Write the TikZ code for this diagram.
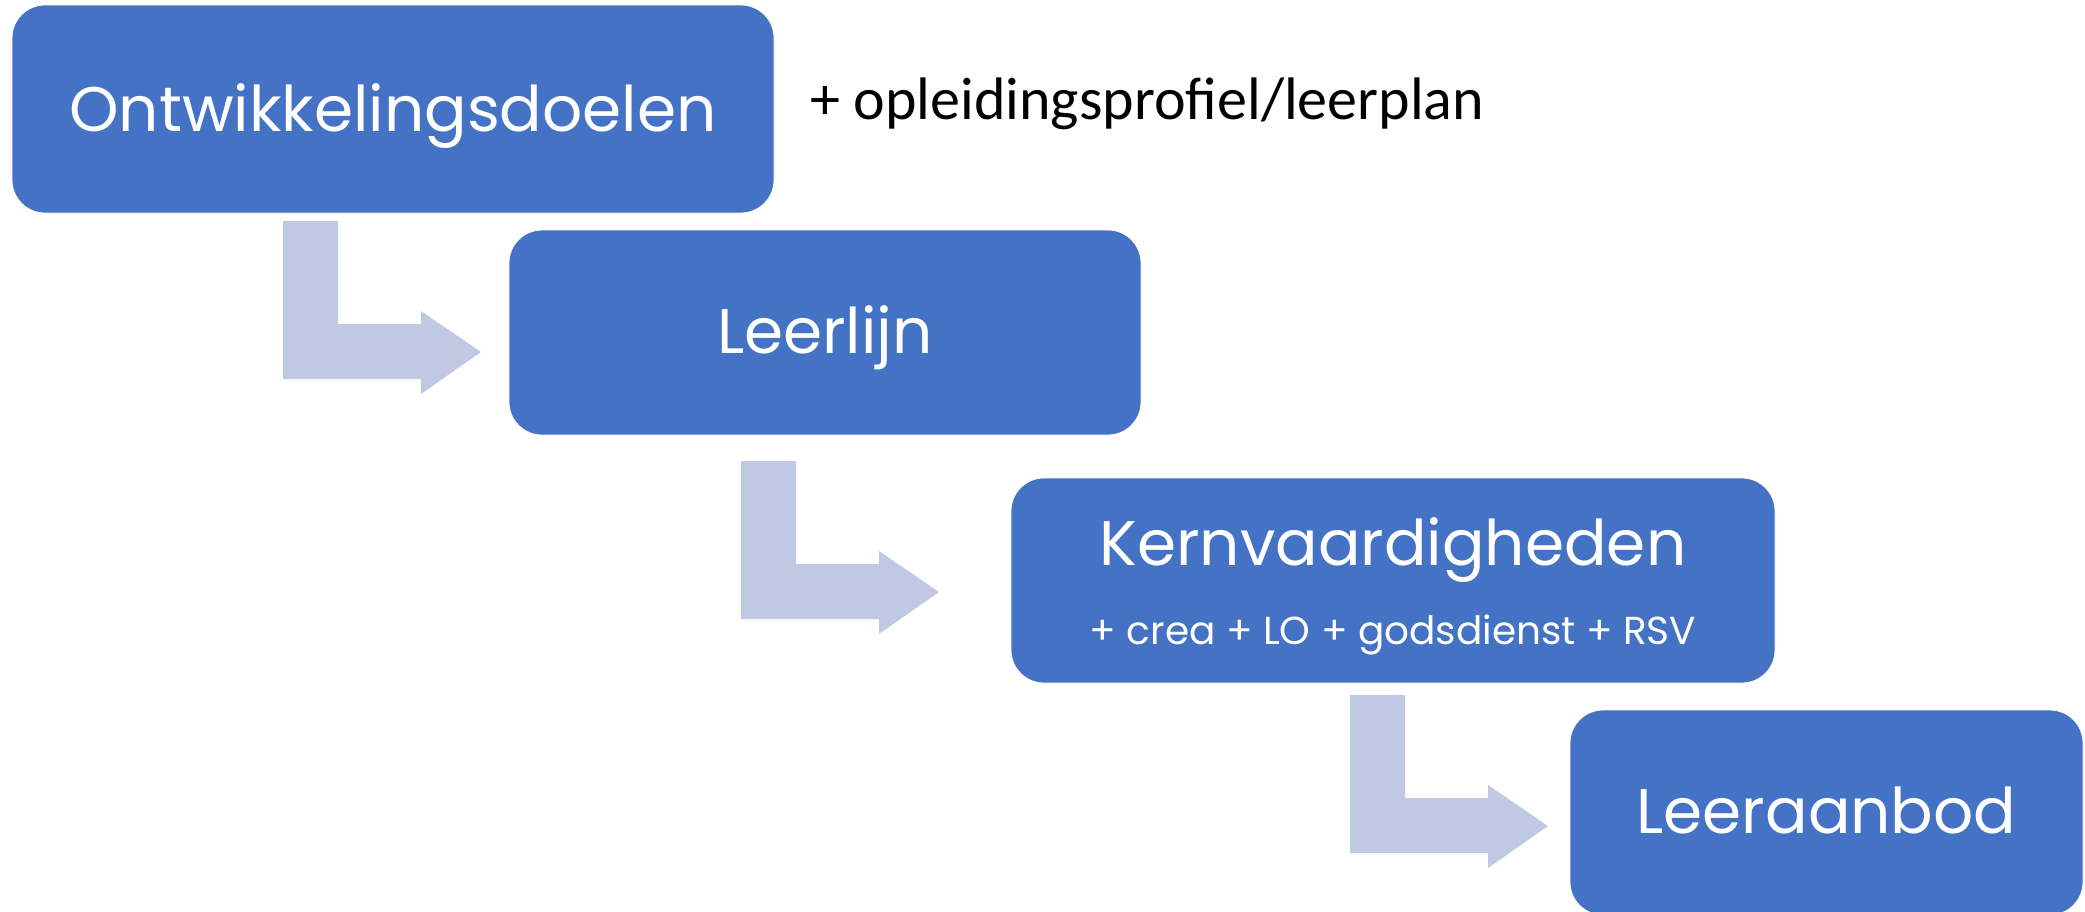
\documentclass[tikz,border=0pt]{standalone}
\usepackage{fontspec}
\newfontfamily\gothicfont{Poppins}
\newfontfamily\calfont{Carlito}
\definecolor{boxblue}{RGB}{68,114,196}
\definecolor{arrowblue}{RGB}{191,201,228}
\begin{document}
\begin{tikzpicture}[x=1pt,y=-1pt,
  stagebox/.style={draw=white,line width=0.8pt,fill=boxblue,rounded corners=33pt,inner sep=0pt,minimum height=205pt},
  maintext/.style={text=white,anchor=base,inner sep=0pt,font=\gothicfont\fontsize{63}{70}\selectfont},
  subtext/.style={text=white,anchor=base,inner sep=0pt,font=\gothicfont\fontsize{39}{44}\selectfont},
  notetext/.style={text=black,anchor=base west,inner sep=0pt,font=\calfont\fontsize{60}{66}\selectfont},
  bentarrow/.pic={\fill[arrowblue] (0,0) -- (55,0) -- (55,103) -- (138,103) -- (138,90) -- (198,131) -- (138,173) -- (138,158) -- (0,158) -- cycle;}
]
\useasboundingbox (0,0) rectangle (2085,911);
\begin{scope}
\clip (0,0) rectangle (2085,911);
\node[stagebox,minimum width=762pt,minimum height=208pt] (b1) at (393,109) {};
\node[stagebox,minimum width=632pt] (b2) at (825,332.5) {};
\node[stagebox,minimum width=764pt] (b3) at (1393,580.5) {};
\node[stagebox,minimum width=513pt] (b4) at (1826.5,812.5) {};
\end{scope}
\node[maintext] (t1) at (393,131) {Ontwikkelingsdoelen};
\node[maintext] (t2) at (825,353) {Leerlijn};
\node[maintext] (t3) at (1393,565) {Kernvaardigheden};
\node[subtext] (t3b) at (1393,644) {+ crea + LO + godsdienst + RSV};
\node[maintext] (t4) at (1826.5,833) {Leeraanbod};
\node[notetext] (note) at (810,119) {+ opleidingsprofiel/leerplan};
\pic at (283,221) {bentarrow};
\pic at (741,461) {bentarrow};
\pic at (1350,695) {bentarrow};
\end{tikzpicture}
\end{document}
